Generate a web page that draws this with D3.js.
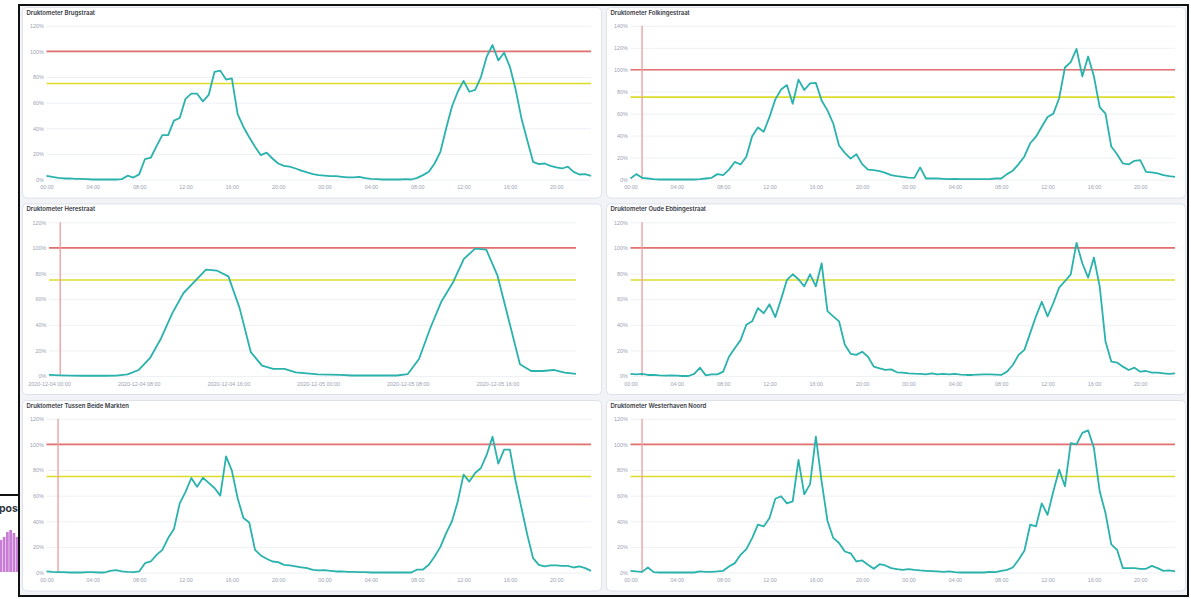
<!DOCTYPE html>
<html>
<head>
<meta charset="utf-8">
<script src="https://cdn.jsdelivr.net/npm/d3@7"></script>
<style>
  body { margin: 0; background: #fff; }
  svg { display: block; font-family: Inter, "Open Sans", sans-serif; }
</style>
</head>
<body>
<svg id="dash" width="1191" height="599"></svg>
<script>
// panel titles, in reading order (left/right, top to bottom)
const titles = [
  'Druktometer Brugstraat',
  'Druktometer Folkingestraat',
  'Druktometer Herestraat',
  'Druktometer Oude Ebbingestraat',
  'Druktometer Tussen Beide Markten',
  'Druktometer Westerhaven Noord'
];

const startTime = new Date(2020, 11, 4, 0, 0);
const markerTime = new Date(2020, 11, 4, 1, 0);

// occupancy in %, one value per 30 minutes from 2020-12-04 00:00
const brugstraat = [
  2.9, 2.0, 1.3, 0.8, 0.8, 0.5, 0.5, 0.3, 0, 0, 0, 0,
  0, 0.3, 3.0, 1.5, 4.0, 16, 17, 26, 34.6, 34.6, 46, 48,
  63, 67, 67, 61, 66, 84, 85, 78, 79, 51, 41, 33,
  25.5, 19, 21, 16.4, 12.5, 10.7, 10, 8.6, 7, 5.5, 4.2, 3.4,
  3.1, 2.6, 2.6, 2.1, 1.6, 1.6, 2.1, 1.0, 0.5, 0.3, 0, 0,
  0, 0, 0.3, 0, 1.3, 3.4, 6, 12.5, 21.6, 40, 57, 68.5,
  77, 68.5, 70, 80, 96, 105, 93, 99, 88, 70, 47.7, 30.7,
  13.8, 12, 12.5, 10.7, 9.4, 8.6, 10, 6, 3.9, 4.2, 2.9
];
const folkingestraat = [
  0.9, 4.9, 1.5, 0.9, 0.3, 0, 0, 0, 0, 0, 0, 0,
  0.3, 0.9, 1.5, 4.9, 4, 9, 16, 13.7, 20.7, 39.5, 47.4, 43.5,
  57, 73, 82, 86, 69, 91, 81.5, 87.5, 88, 72, 63, 51,
  31, 24.3, 19, 23, 14, 9, 8.5, 7.6, 6, 4, 3, 2.4,
  1.8, 1.5, 11, 0.9, 0.9, 0.9, 0.6, 0.3, 0.6, 0.3, 0.3, 0.3,
  0.3, 0.3, 0.3, 0.9, 0.9, 4.9, 8, 14, 21, 33, 39, 48,
  57, 60, 74, 102, 107, 119, 94, 112, 94, 66, 60, 30,
  23, 14.6, 13.7, 17, 17.6, 7, 6.4, 5.5, 4, 3, 2.4
];
// hourly values
const herestraat = [
  0.8, 0.5, 0.3, 0.2, 0.2, 0.2, 0.3, 1.3, 4.7, 13.9, 29.5, 49.1,
  64.8, 73.8, 83, 82.2, 77.8, 53, 18.6, 8.1, 5.5, 5.5, 2.9, 2.1,
  1.3, 1.1, 0.9, 0.4, 0.4, 0.4, 0.4, 0.4, 1.5, 13.3, 37.3, 58.2,
  72.6, 91.4, 99.4, 98.6, 78.3, 43.9, 9.1, 3.9, 3.9, 4.7, 2.6, 1.6
];
const oudeEbbingestraat = [
  1.6, 1.3, 1.6, 0.8, 0.8, 0.5, 0.3, 0.5, 0.3, 0, 0, 1.6,
  6.5, 0.5, 1.3, 1.3, 3.4, 15, 21.7, 28, 40, 42.7, 53, 49,
  56, 46, 60, 75, 79.4, 75.5, 70, 79.4, 70, 88, 50.6, 46.6,
  42.7, 24.4, 17.3, 16.5, 19, 15, 7.3, 6, 4.7, 5.2, 2.9, 2.6,
  2.1, 1.8, 1.6, 1.3, 2.1, 1.3, 1.6, 1.3, 1.6, 1, 0.8, 0.8,
  1, 1.3, 1.3, 1, 0.8, 3.4, 8.6, 16.5, 20.4, 33.5, 46.6, 58,
  46.6, 57, 69, 74, 79.4, 104, 88, 76.8, 92.5, 70, 27, 11.3,
  10.5, 7.3, 4.7, 6.5, 3.4, 3.9, 2.6, 2.6, 2.1, 1.6, 2.1
];
const tussenBeideMarkten = [
  0.8, 0.5, 0.3, 0.3, 0, 0, 0, 0.3, 0.3, 0, 0, 1.3,
  1.8, 0.8, 0.5, 0.3, 0.8, 7.3, 8.6, 13.8, 17.7, 26.9, 33.9, 54,
  63, 73.8, 67, 74, 70, 66, 60, 90.7, 79.5, 58, 42.5, 39,
  17.7, 13.3, 10.7, 8.6, 8.1, 6, 5.5, 4.7, 4, 3.4, 2.1, 1.6,
  1.8, 1.3, 0.8, 0.8, 0.5, 0.5, 0.3, 0.3, 0, 0, 0, 0,
  0, 0, 0, 0, 2.3, 2.3, 6, 12.5, 20, 30.8, 40, 55.5,
  76.4, 71, 77.7, 81.6, 92, 106, 85, 96, 96, 71, 50.3, 29.5,
  11.2, 6, 4.7, 5.5, 5.5, 5.2, 5.2, 3.9, 4.7, 3.4, 1.3
];
const westerhavenNoord = [
  1.3, 0.8, 0.5, 3.9, 0.3, 0, 0, 0, 0, 0, 0, 0,
  0.8, 0.5, 0.5, 0.8, 1.3, 4.7, 7.3, 13.8, 18.3, 26.9, 37.3, 36,
  42.5, 57.6, 59.5, 54, 55.5, 88, 61, 69, 106, 71, 40.4, 27,
  23, 16.4, 15, 8.6, 9.4, 6, 2.9, 6.5, 5.5, 3.4, 2.6, 2,
  2.6, 2, 1.6, 1.3, 1, 0.8, 0.5, 0.8, 0.3, 0, 0, 0,
  0, 0, 0.5, 0.3, 1.3, 2, 3.9, 10, 17, 37.3, 36, 54,
  45, 63.4, 80.3, 67.3, 101, 100, 109, 111, 97.3, 63.4, 46.4, 22,
  17.7, 3.4, 3.4, 3.4, 2.9, 2.9, 5.2, 3.4, 1.3, 1.6, 0.8
];

const series = [brugstraat, folkingestraat, herestraat, oudeEbbingestraat, tussenBeideMarkten, westerhavenNoord];
const stepMinutes = [30, 30, 60, 30, 30, 30];
const yMaxes = [120, 140, 120, 120, 120, 120];
const tickHours = [4, 4, 8, 4, 4, 4];
const tickFormats = ['%H:%M', '%H:%M', '%Y-%m-%d %H:%M', '%H:%M', '%H:%M', '%H:%M'];
const showMarker = [false, true, true, true, true, true];
const redLevel = 100, yellowLevel = 75;

// the bit of a neighbouring visualisation peeking out at bottom-left
const fragmentBars = [32, 35, 40, 42, 39, 35];

const svg = d3.select('svg#dash');

// neighbour fragment
{
  const fx = d3.scaleBand().domain(d3.range(fragmentBars.length)).range([-1, 19]).padding(0.15);
  const fy = d3.scaleLinear().domain([0, 50]).range([572, 522]);
  svg.append('rect').attr('x', 0).attr('y', 495).attr('width', 20).attr('height', 104).attr('fill', '#fff');
  svg.append('text').attr('x', -1).attr('y', 512).text('post')
    .attr('font-size', 10.5).attr('font-weight', 700).attr('fill', '#343741');
  svg.selectAll('rect.fbar').data(fragmentBars).enter().append('rect')
    .attr('class', 'fbar')
    .attr('x', (d, i) => fx(i)).attr('width', fx.bandwidth())
    .attr('y', d => fy(d)).attr('height', d => fy(0) - fy(d))
    .attr('fill', '#c97dd6');
  svg.append('line').attr('x1', 0).attr('x2', 20).attr('y1', 495).attr('y2', 495)
    .attr('stroke', '#111').attr('stroke-width', 2);
}

// dashboard frame background
svg.append('rect').attr('x', 19).attr('y', 5).attr('width', 1169).attr('height', 591).attr('fill', '#f1f3f7');

const panelW = 580, panelH = 191.5;
const colX = [22, 606], rowY = [7, 203.5, 400];
const plotTop = 18.8, plotBottom = 172.5;

titles.forEach((title, i) => {
  const px = colX[i % 2], py = rowY[Math.floor(i / 2)];
  const g = svg.append('g').attr('transform', `translate(${px},${py})`);

  g.append('rect')
    .attr('x', 0.5).attr('y', 0.5)
    .attr('width', panelW - 1).attr('height', panelH - 1)
    .attr('rx', 4)
    .attr('fill', '#fff')
    .attr('stroke', '#dde2ea');

  g.append('text')
    .attr('x', 4.5).attr('y', 7.8)
    .attr('font-size', 6).attr('font-weight', 600)
    .attr('fill', '#343741')
    .text(title);

  const margin = i === 2 ? {left: 27, right: 26} : {left: 24.5, right: 11};
  const width = panelW - margin.left - margin.right;

  const pts = series[i].map((v, k) => ({t: d3.timeMinute.offset(startTime, k * stepMinutes[i]), v: v}));

  const x = d3.scaleTime().domain(d3.extent(pts, d => d.t)).range([margin.left, panelW - margin.right]);
  const y = d3.scaleLinear().domain([0, yMaxes[i]]).range([plotBottom, plotTop]);

  // grid + y labels
  const ya = g.append('g')
    .attr('transform', `translate(${margin.left},0)`)
    .call(d3.axisLeft(y)
      .tickValues(d3.range(0, yMaxes[i] + 1, 20))
      .tickFormat(d => d + '%')
      .tickSize(-width)
      .tickPadding(2.7));
  ya.select('.domain').remove();
  ya.selectAll('line').attr('stroke', '#eef0f4').attr('stroke-width', 1);
  ya.selectAll('text').attr('font-size', 5.4).attr('fill', '#9aa3b3').attr('font-family', null);

  // x labels
  const xa = g.append('g')
    .attr('transform', `translate(0,${plotBottom})`)
    .call(d3.axisBottom(x)
      .ticks(d3.timeHour.every(tickHours[i]))
      .tickFormat(d3.timeFormat(tickFormats[i]))
      .tickSize(0)
      .tickPadding(6));
  xa.select('.domain').remove();
  xa.selectAll('text').attr('font-size', 5.4).attr('fill', '#9aa3b3').attr('font-family', null);

  // thresholds
  g.append('line')
    .attr('x1', x.range()[0]).attr('x2', x.range()[1])
    .attr('y1', y(redLevel)).attr('y2', y(redLevel))
    .attr('stroke', '#e46f6f').attr('stroke-width', 1.6);
  g.append('line')
    .attr('x1', x.range()[0]).attr('x2', x.range()[1])
    .attr('y1', y(yellowLevel)).attr('y2', y(yellowLevel))
    .attr('stroke', '#dcdc2a').attr('stroke-width', 1.6);

  if (showMarker[i]) {
    g.append('line')
      .attr('x1', x(markerTime)).attr('x2', x(markerTime))
      .attr('y1', y(yMaxes[i])).attr('y2', y(0))
      .attr('stroke', '#eba3a3').attr('stroke-width', 1.4);
  }

  const line = d3.line().x(d => x(d.t)).y(d => y(d.v));
  g.append('path')
    .datum(pts)
    .attr('d', line)
    .attr('fill', 'none')
    .attr('stroke', '#2ab2ac')
    .attr('stroke-width', 1.8)
    .attr('stroke-linejoin', 'round');
});

// frame border
svg.append('rect').attr('x', 19).attr('y', 5).attr('width', 1169).attr('height', 591)
  .attr('fill', 'none').attr('stroke', '#111').attr('stroke-width', 2);
</script>
</body>
</html>
